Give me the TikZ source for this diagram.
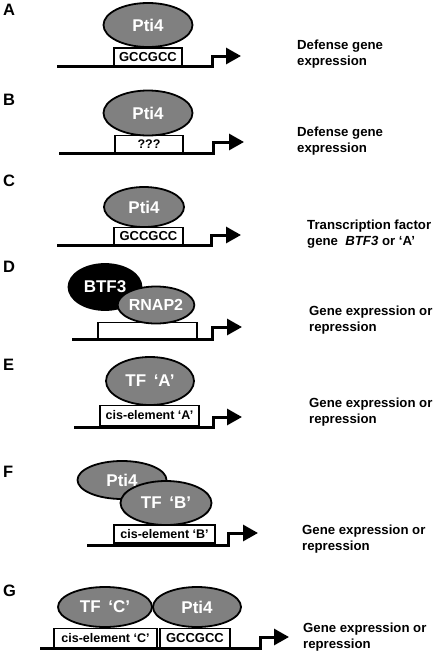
\documentclass[tikz,border=0pt]{standalone}
\usepackage{fontspec}
\setmainfont{Liberation Sans}
\usetikzlibrary{shapes.geometric,arrows.meta}
\definecolor{protgray}{RGB}{128,128,128}
\tikzset{
  prot/.style={ellipse,draw=black,line width=1.8pt,fill=protgray,inner sep=0pt,
    text=white,font=\fontsize{17}{19}\selectfont\bfseries},
  protblack/.style={prot,fill=black},
  elem/.style={rectangle,draw=black,line width=1.5pt,fill=white,inner sep=0pt,
    font=\fontsize{12.5}{14}\selectfont\bfseries},
  gcc/.style={elem,font=\fontsize{13}{15}\selectfont\bfseries},
  dna/.style={line width=3pt,line join=miter,-{Triangle[length=15pt,width=16pt]}},
  panel/.style={anchor=west,inner sep=0pt,font=\fontsize{16.5}{18}\selectfont\bfseries},
  desc/.style={anchor=west,inner sep=0pt,align=left,font=\fontsize{13.2}{16}\selectfont\bfseries}
}
\begin{document}
\begin{tikzpicture}[x=1pt,y=-1pt]
\useasboundingbox (0,0) rectangle (435,651);
% ---------------- A
\node[panel] (la) at (3,10) {A};
\coordinate (a0) at (57,66); \coordinate (a1) at (212,66); \coordinate (a2) at (241,56);
\draw[dna] (a0) -- (a1) |- (a2);
\node[gcc,minimum width=68pt,minimum height=18pt] (ea) at (148,57) {GCCGCC};
\node[prot,minimum width=89pt,minimum height=44pt] (pa) at (148,25) {Pti4};
\node[desc] (da) at (297,54.5) {Defense gene\\expression};
% ---------------- B
\node[panel] (lb) at (3,100) {B};
\coordinate (b0) at (59,153); \coordinate (b1) at (213,153); \coordinate (b2) at (244,142);
\draw[dna] (b0) -- (b1) |- (b2);
\node[elem,minimum width=68pt,minimum height=17pt] (eb) at (149,144) {???};
\node[prot,minimum width=89pt,minimum height=45pt] (pb) at (148,113) {Pti4};
\node[desc] (db) at (297,141.5) {Defense gene\\expression};
% ---------------- C
\node[panel] (lc) at (3,181) {C};
\coordinate (c0) at (57,245); \coordinate (c1) at (211,245); \coordinate (c2) at (241,235);
\draw[dna] (c0) -- (c1) |- (c2);
\node[gcc,minimum width=69pt,minimum height=17pt] (ec) at (148.5,236) {GCCGCC};
\node[prot,minimum width=80pt,minimum height=40pt] (pc) at (144,207) {Pti4};
\node[desc] (dc) at (307,234.5) {Transcription factor\\gene \ \textit{BTF3} or ‘A’};
% ---------------- D
\node[panel] (ld) at (3,267) {D};
\coordinate (d0) at (72,339); \coordinate (d1) at (212,339); \coordinate (d2) at (242,327);
\draw[dna] (d0) -- (d1) |- (d2);
\node[elem,minimum width=99pt,minimum height=16pt] (ed) at (147.5,330.5) {};
\node[protblack,minimum width=73pt,minimum height=46pt] (btf) at (105,287) {BTF3};
\node[prot,minimum width=68pt,minimum height=37pt,font=\fontsize{16}{18}\selectfont\bfseries] (rnap) at (156,305) {RNAP2};
\node[desc] (dd) at (309,320.5) {Gene expression or\\repression};
% ---------------- E
\node[panel] (le) at (3,365) {E};
\coordinate (e0) at (74,427); \coordinate (e1) at (213,427); \coordinate (e2) at (242,417);
\draw[dna] (e0) -- (e1) |- (e2);
\node[elem,minimum width=99pt,minimum height=20pt] (ee) at (149.5,415.5) {cis-element ‘A’};
\node[prot,minimum width=88pt,minimum height=48pt] (pe) at (150,381) {TF \,‘A’};
\node[desc] (de) at (309,412) {Gene expression or\\repression};
% ---------------- F
\node[panel] (lf) at (3,472) {F};
\coordinate (f0) at (87,545); \coordinate (f1) at (228,545); \coordinate (f2) at (258,533);
\draw[dna] (f0) -- (f1) |- (f2);
\node[elem,minimum width=101pt,minimum height=18pt] (ef) at (164.5,534) {cis-element ‘B’};
\node[prot,minimum width=89pt,minimum height=38pt] (pf) at (122,480) {Pti4};
\node[prot,minimum width=91pt,minimum height=44pt] (tfb) at (166,503) {TF \,‘B’};
\node[desc] (df) at (302,539) {Gene expression or\\repression};
% ---------------- G
\node[panel] (lg) at (3,591) {G};
\coordinate (g0) at (40,648); \coordinate (g1) at (260,648); \coordinate (g2) at (289,637);
\draw[dna] (g0) -- (g1) |- (g2);
\node[elem,minimum width=103pt,minimum height=19pt] (egc) at (105.5,638) {cis-element ‘C’};
\node[gcc,minimum width=70pt,minimum height=19pt] (egg) at (195,638) {GCCGCC};
\node[prot,minimum width=94pt,minimum height=40pt] (tfc) at (105,607) {TF \,‘C’};
\node[prot,minimum width=88pt,minimum height=40pt] (pg) at (197,607) {Pti4};
\node[desc] (dg) at (303,637) {Gene expression or\\repression};
\end{tikzpicture}
\end{document}
